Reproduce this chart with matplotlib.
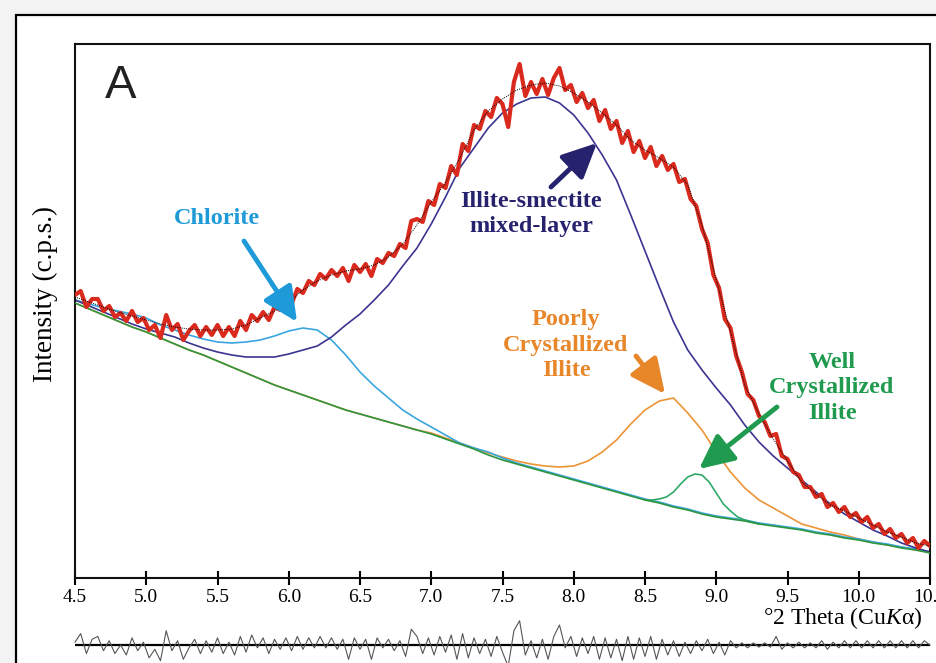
import numpy as np
import matplotlib
matplotlib.use("Agg")
import matplotlib.pyplot as plt
from matplotlib.patches import Rectangle

plt.rcParams['font.family'] = ['Liberation Serif', 'DejaVu Serif']
plt.rcParams['mathtext.fontset'] = 'custom'
plt.rcParams['mathtext.rm'] = 'Liberation Serif'
plt.rcParams['mathtext.it'] = 'Liberation Serif:italic'

# ---------------- data (intensity, arbitrary c.p.s.) ----------------
theta = np.round(np.arange(45, 106) / 10.0, 2)          # 4.5 .. 10.5, step 0.1

background = [550, 538, 526, 514, 502, 492, 480, 468, 456, 446,
              434, 422, 410, 398, 386, 376, 366, 356, 346, 336,
              328, 320, 312, 304, 296, 288, 278, 268, 258, 246,
              236, 228, 220, 212, 204, 196, 188, 180, 172, 164,
              156, 150, 142, 136, 128, 122, 118, 114, 108, 104,
              100, 96, 90, 86, 80, 76, 70, 66, 60, 56,
              50]

chlorite = [556, 548, 540, 534, 528, 520, 506, 496, 486, 478,
            472, 470, 472, 476, 484, 494, 500, 496, 476, 446,
            412, 384, 360, 336, 318, 302, 286, 270, 260, 252,
            240, 230, 222, 214, 206, 198, 190, 182, 174, 166,
            158, 152, 144, 138, 130, 124, 120, 116, 110, 106,
            102, 98, 92, 88, 82, 78, 72, 68, 62, 58,
            52]

illite_smectite = [556, 544, 532, 520, 508, 498, 490, 482, 470, 460,
                   452, 446, 442, 442, 442, 448, 456, 464, 482, 506,
                   528, 556, 586, 624, 660, 708, 762, 820, 860, 900,
                   930, 948, 960, 962, 950, 926, 890, 846, 796, 726,
                   654, 582, 512, 456, 416, 380, 346, 306, 272, 244,
                   220, 196, 172, 148, 128, 112, 96, 84, 70, 60,
                   52]

poorly_illite = [550, 538, 526, 514, 502, 492, 480, 468, 456, 446,
                 434, 422, 410, 398, 386, 376, 366, 356, 346, 336,
                 328, 320, 312, 304, 296, 290, 280, 270, 260, 250,
                 242, 234, 228, 224, 222, 224, 234, 252, 276, 308,
                 336, 354, 360, 330, 296, 252, 212, 180, 156, 140,
                 124, 108, 100, 92, 86, 78, 72, 66, 62, 56,
                 52]

well_theta = np.round(np.arange(170, 187) * 0.05, 2)    # 8.50 .. 9.30
well_illite = [156, 156, 158, 162, 172, 188, 202, 208, 206, 192,
               170, 148, 134, 122, 116, 112, 108]

fit_total = [562, 552, 542, 532, 524, 516, 508, 502, 498, 496,
             496, 498, 506, 520, 534, 552, 576, 594, 606, 614,
             618, 626, 642, 668, 706, 752, 790, 840, 896, 934,
             958, 976, 986, 990, 984, 970, 952, 930, 906, 876,
             856, 840, 822, 786, 706, 596, 492, 386, 328, 278,
             234, 192, 168, 146, 134, 120, 106, 92, 82, 70,
             64]

obs_theta = np.round(4.5 + 0.04 * np.arange(151), 2)    # 4.50 .. 10.50
observed = [566, 574, 542, 558, 558, 534, 544, 522, 530, 514,
            534, 512, 520, 496, 506, 480, 526, 496, 508, 476,
            494, 506, 484, 502, 486, 506, 484, 502, 484, 514,
            496, 526, 514, 532, 516, 542, 536, 558, 548, 578,
            570, 594, 586, 608, 598, 616, 604, 620, 594, 626,
            612, 628, 604, 638, 630, 650, 644, 668, 660, 714,
            718, 712, 754, 746, 788, 780, 824, 806, 868, 854,
            906, 898, 934, 922, 960, 948, 902, 992, 1028, 964,
            992, 968, 998, 966, 1000, 1020, 976, 986, 952, 970,
            940, 956, 914, 936, 898, 914, 870, 894, 852, 874,
            840, 862, 824, 844, 816, 828, 792, 798, 758, 744,
            698, 670, 606, 580, 518, 500, 444, 412, 368, 356,
            324, 312, 284, 288, 244, 238, 212, 206, 182, 182,
            162, 168, 142, 150, 132, 142, 122, 130, 112, 122,
            100, 108, 88, 98, 80, 88, 70, 80, 60, 74,
            64]

residual = [4, 16, -12, 8, 12, -8, 6, -12, 0, -14,
            10, -8, 4, -18, -6, -22, 20, -8, 6, -20,
            -4, 8, -12, 6, -10, 10, -12, 4, -14, 12,
            -10, 14, -4, 10, -12, 8, -6, 10, -8, 12,
            -6, 10, -4, 12, -4, 10, -6, 8, -20, 10,
            -6, 8, -20, 10, -4, 8, -8, 6, -16, 22,
            12, -12, 10, -14, 12, -10, 14, -20, 16, -18,
            10, -12, 8, -16, 12, -10, -30, 20, 34, -14,
            6, -18, 8, -20, 12, 28, -4, 12, -16, 10,
            -12, 12, -20, 10, -18, 8, -22, 12, -20, 10,
            -16, 12, -20, 8, -14, 6, -16, 4, -12, 6,
            -8, 8, -12, 4, -14, 6, -4, 3, -4, 3,
            -3, 3, -3, 12, -6, 3, -4, 4, -4, 3,
            -4, 6, -6, 4, -4, 6, -4, 6, -4, 6,
            -4, 6, -4, 6, -4, 6, -4, 6, -4, 6,
            0]

xticks = [4.5, 5.0, 5.5, 6.0, 6.5, 7.0, 7.5, 8.0, 8.5, 9.0, 9.5, 10.0, 10.5]

# ---------------- figure ----------------
W, H = 936, 663
fig = plt.figure(figsize=(W / 100, H / 100), dpi=100)
fig.patch.set_facecolor('#f3f3f3')


def fp(x, y):
    return (x / W, 1 - y / H)


frame = Rectangle(fp(16, 700), (1100 - 16) / W, (700 - 15) / H,
                  transform=fig.transFigure, facecolor='white',
                  edgecolor='black', lw=1.6, zorder=-10)
fig.patches.append(frame)

ax = fig.add_axes([75 / W, (H - 578) / H, 855 / W, 534 / H])
ax.set_facecolor('white')

c_bg = '#2e9640'
c_chl = '#3aa6df'
c_is = '#3b3490'
c_pci = '#ec9436'
c_wci = '#2fa96a'
c_obs = '#da2a1e'

ax.plot(theta, background, color=c_bg, lw=1.2, zorder=3)
ax.plot(theta, poorly_illite, color=c_pci, lw=1.2, zorder=2)
ax.plot(theta, chlorite, color=c_chl, lw=1.2, zorder=2)
ax.plot(well_theta, well_illite, color=c_wci, lw=1.2, zorder=2)
ax.plot(theta, illite_smectite, color=c_is, lw=1.2, zorder=2)
ax.plot(obs_theta, observed, color=c_obs, lw=3.0, zorder=4,
        solid_joinstyle='round')
ax.plot(theta, fit_total, color='black', lw=0.7, ls=(0, (1, 1.2)), zorder=5)

ax.set_xlim(4.5, 10.5)
ax.set_ylim(0, 1068)
ax.set_yticks([])
ax.set_xticks(xticks)
ax.set_xticklabels(['%.1f' % t for t in xticks])
ax.tick_params(axis='x', direction='inout', length=10, width=1.5,
               labelsize=14, pad=3)
for s in ax.spines.values():
    s.set_linewidth(1.5)
    s.set_color('#111111')

# residual panel
axr = fig.add_axes([75 / W, (H - 665) / H, 855 / W, 40 / H])
axr.set_xlim(4.5, 10.5)
axr.set_ylim(-28, 28)
axr.axis('off')
axr.axhline(0, color='black', lw=1.6, zorder=2)
axr.plot(obs_theta, residual, color='#555555', lw=0.8, zorder=3,
         clip_on=False)

# labels
fig.text(*fp(45, 294), 'Intensity (c.p.s.)', rotation=90, ha='center',
         va='center', fontsize=19.5)
fig.text(*fp(922, 618), r'°2 Theta (Cu$\mathit{K}$α)', ha='right',
         va='center', fontsize=17)
fig.text(*fp(121, 86), 'A', ha='center', va='center', fontsize=34,
         family='Liberation Sans', color='#222222')


def label(x, y, s, color):
    fig.text(*fp(x, y), s, ha='center', va='center', fontsize=17.5,
             fontweight='bold', color=color, linespacing=1.3)


def arrow(tail, tip, color):
    ax.annotate('', xy=fp(*tip), xytext=fp(*tail),
                xycoords='figure fraction', textcoords='figure fraction',
                arrowprops=dict(arrowstyle='-|>,head_length=1.05,head_width=0.5',
                                lw=3.5, color=color, mutation_scale=20,
                                shrinkA=0, shrinkB=0),
                zorder=6)


label(217, 219, 'Chlorite', '#1e9ad8')
arrow((244, 241), (297, 322), '#1e9ad8')

label(531, 214, 'Illite-smectite\nmixed-layer', '#27226e')
arrow((551, 187), (597, 143), '#27226e')

label(566, 345, 'Poorly\nCrystallized\nIllite', '#e8862a')
arrow((636, 356), (665, 394), '#e8862a')

label(832, 388, 'Well\nCrystallized\nIllite', '#1f9a4e')
arrow((777, 407), (699, 469), '#1f9a4e')

fig.savefig('out.png', dpi=100, facecolor=fig.get_facecolor())
